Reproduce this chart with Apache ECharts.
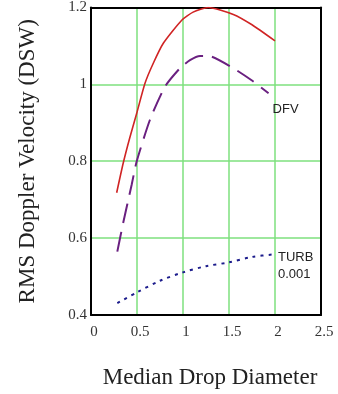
<!DOCTYPE html>
<html><head><meta charset="utf-8">
<script src="https://cdn.jsdelivr.net/npm/echarts@6/dist/echarts.min.js"></script>
<style>html,body{margin:0;padding:0;background:#fff}#c{width:338px;height:394px}</style>
</head><body><div id="c"></div>
<script>
const xTicks = [0, 0.5, 1, 1.5, 2, 2.5];
const yTicks = [0.4, 0.6, 0.8, 1, 1.2];
const dfvX = [0.279, 0.351, 0.42, 0.497, 0.587, 0.677, 0.786, 0.986, 1.11, 1.275, 1.547, 1.75, 2.0];
const dfvY = [0.718, 0.796, 0.86, 0.925, 1.003, 1.055, 1.107, 1.167, 1.188, 1.2, 1.182, 1.155, 1.113];
const dashX = [0.286, 0.35, 0.442, 0.497, 0.641, 0.804, 0.967, 1.076, 1.185, 1.275, 1.547, 1.75, 1.93];
const dashY = [0.565, 0.64, 0.739, 0.8, 0.908, 0.994, 1.042, 1.063, 1.074, 1.074, 1.042, 1.01, 0.977];
const turbX = [0.286, 0.5, 0.75, 1.0, 1.25, 1.5, 1.75, 2.0];
const turbY = [0.431, 0.459, 0.489, 0.511, 0.527, 0.537, 0.551, 0.558];
const labelDFV = 'DFV';
const labelTURB = 'TURB\n0.001';

const zip = (a, b) => a.map((v, i) => [v, b[i]]);
const chart = echarts.init(document.getElementById('c'));
const serif = 'Liberation Serif';
const green = {show: true, lineStyle: {color: '#7ee07e', width: 1.5}};
const black = {show: true, onZero: false, lineStyle: {color: '#000', width: 2}};
chart.setOption({
  animation: false,
  grid: {left: 91, right: 17, top: 7, bottom: 78},
  xAxis: [{
    type: 'value', min: 0, max: 2.5, interval: 0.5,
    name: 'Median Drop Diameter', nameLocation: 'middle', nameGap: 51,
    nameTextStyle: {fontFamily: serif, fontSize: 23, color: '#222', padding: [0, 0, 0, 8]},
    axisLine: black, axisTick: {show: false},
    axisLabel: {fontFamily: serif, fontSize: 15, color: '#333', margin: 10, padding: [0, 0, 0, 6], formatter: v => String(v)},
    splitLine: green
  }, {
    type: 'value', position: 'top', min: 0, max: 2.5, interval: 0.5,
    axisLine: black, axisTick: {show: false}, axisLabel: {show: false}, splitLine: {show: false}
  }],
  yAxis: [{
    type: 'value', min: 0.4, max: 1.2, interval: 0.2,
    name: 'RMS Doppler Velocity (DSW)', nameLocation: 'middle', nameGap: 52,
    nameTextStyle: {fontFamily: serif, fontSize: 23, color: '#222'},
    axisLine: black, axisTick: {show: false},
    axisLabel: {fontFamily: serif, fontSize: 15, color: '#333', margin: 4, padding: [7, 0, 0, 0], formatter: v => String(Math.round(v*10)/10)},
    splitLine: green
  }, {
    type: 'value', position: 'right', min: 0.4, max: 1.2, interval: 0.2,
    axisLine: black, axisTick: {show: false}, axisLabel: {show: false}, splitLine: {show: false}
  }],
  series: [
    {type: 'line', data: zip(dfvX, dfvY), smooth: 0.2, showSymbol: false,
     lineStyle: {color: '#d02424', width: 1.6}},
    {type: 'line', data: zip(dashX, dashY), smooth: 0.2, showSymbol: false,
     lineStyle: {color: '#6a2080', width: 2, type: [20, 9]},
     endLabel: {show: true, formatter: labelDFV, fontFamily: 'Liberation Sans', fontSize: 13, color: '#222', offset: [0, 16], distance: 4}},
    {type: 'line', data: zip(turbX, turbY), smooth: 0.3, showSymbol: false,
     lineStyle: {color: '#1c1c8c', width: 2, type: [3, 5]},
     endLabel: {show: true, formatter: labelTURB, fontFamily: 'Liberation Sans', fontSize: 13, color: '#222', lineHeight: 17, offset: [0, 12], distance: 3}}
  ]
});
</script></body></html>
